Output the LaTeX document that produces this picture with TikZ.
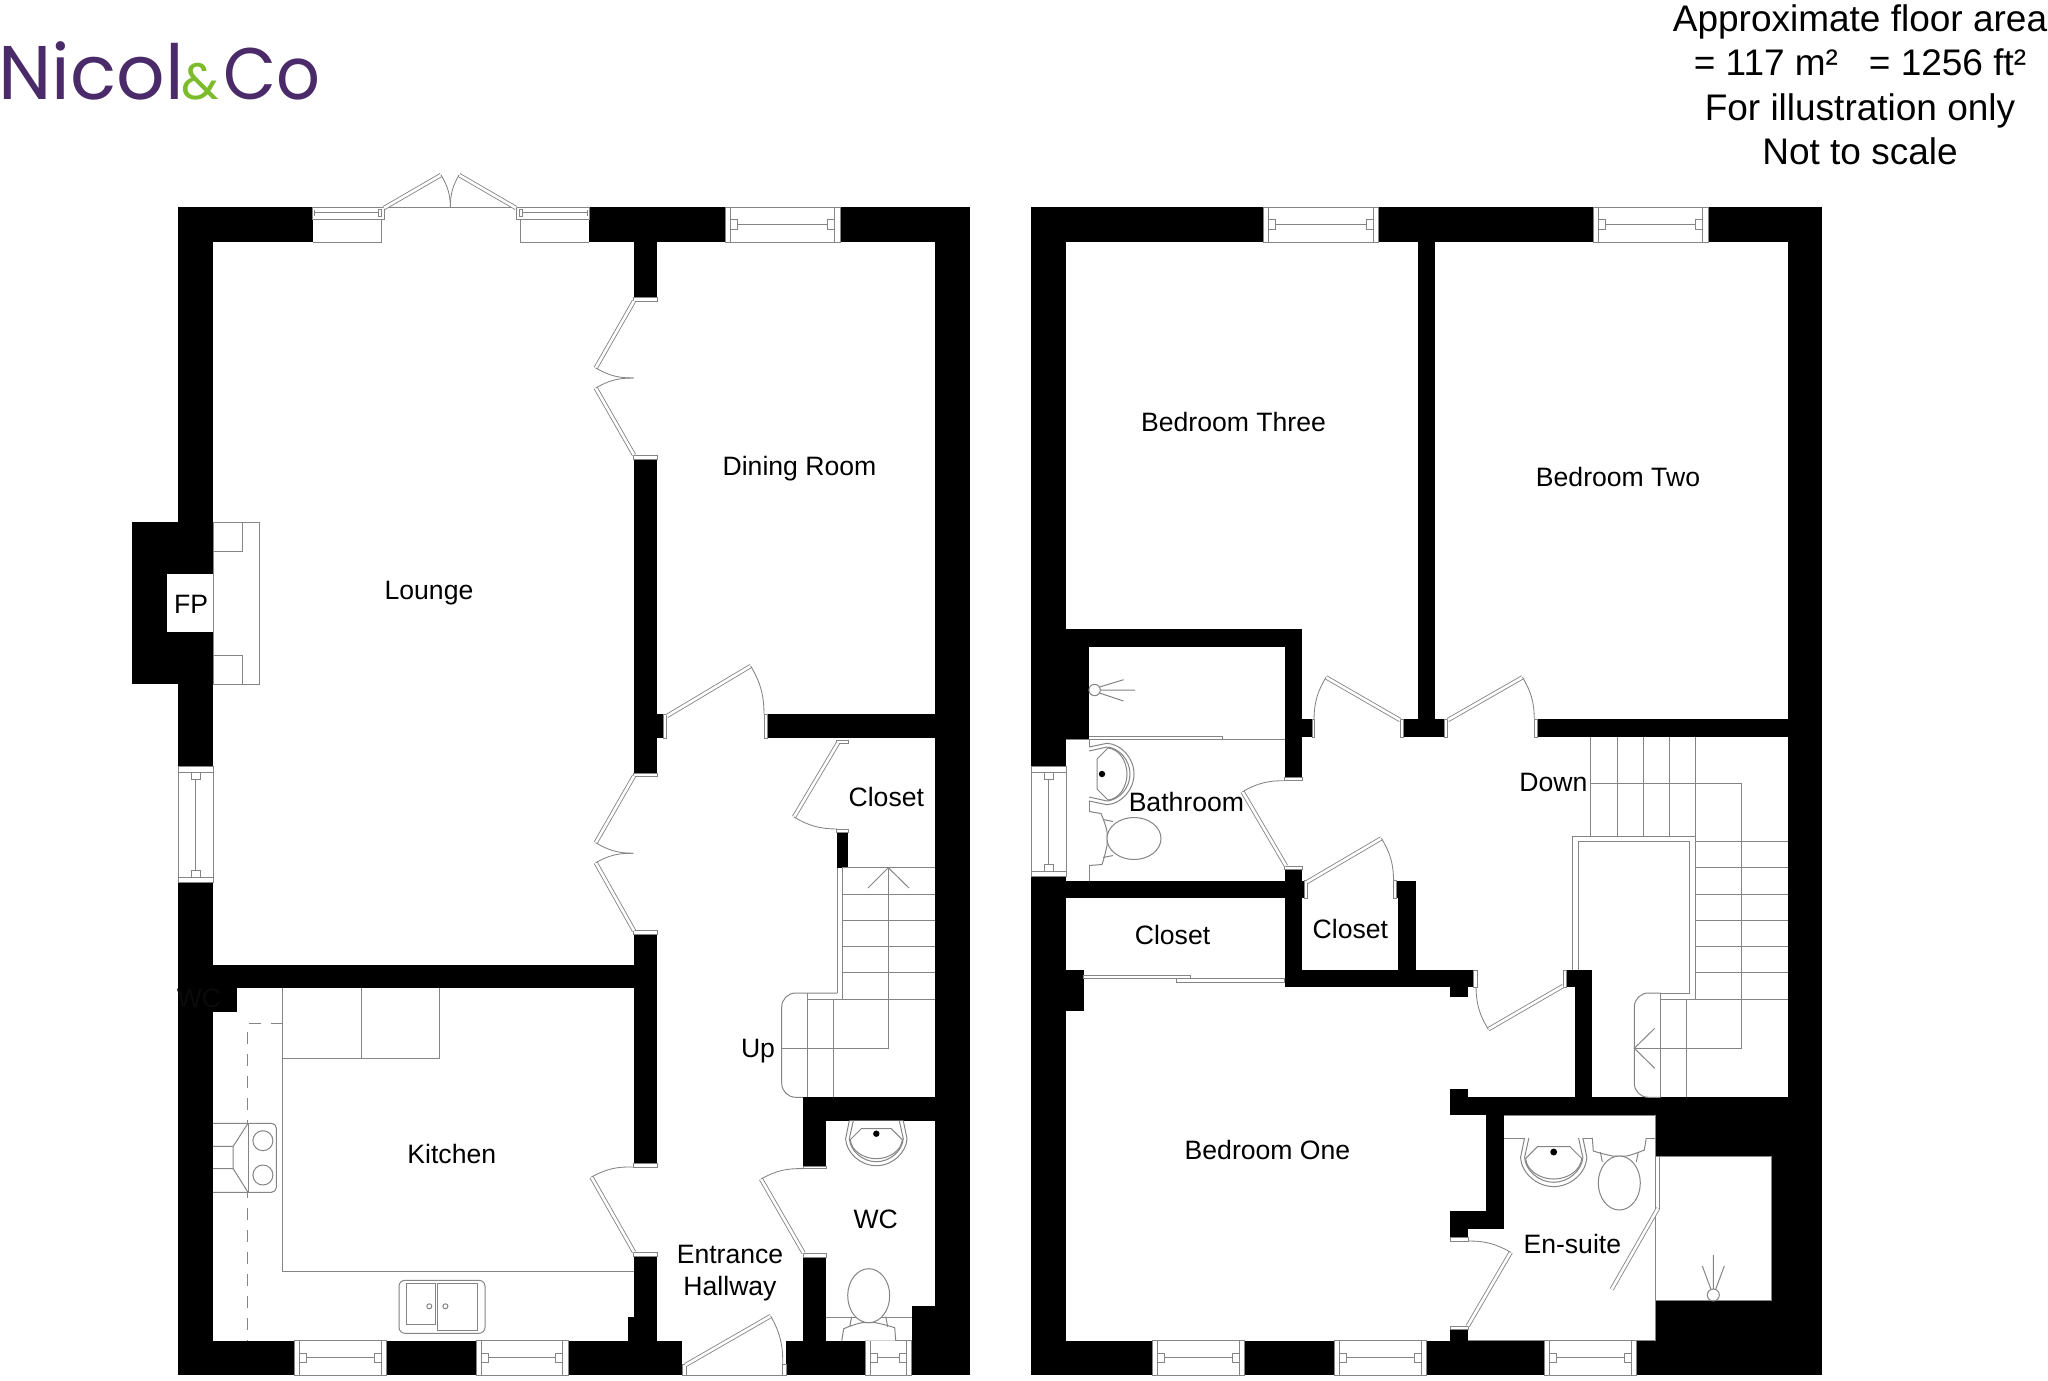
\documentclass[tikz,border=0pt]{standalone}
\usepackage{fontspec}
\setmainfont{Liberation Sans}
\newfontfamily\logofont{Poppins}
\definecolor{logopurple}{HTML}{4A2A68}
\definecolor{logogreen}{HTML}{7CBB2C}
\definecolor{linegrey}{HTML}{858585}
\tikzset{
  ln/.style={draw=linegrey,line width=1pt},
  wallfill/.style={fill=black},
  jamb/.style={draw=linegrey,line width=1pt,fill=white},
  leaf/.style={draw=linegrey,double=white,double distance=2.6pt,line width=0.85pt},
  swing/.style={draw=linegrey,line width=0.85pt,bend left=15},
  room/.style={font=\fontsize{26.6}{32}\selectfont,inner sep=0pt,text=black,text height=19pt,text depth=0pt},
  roomtwo/.style={font=\fontsize{26.6}{32}\selectfont,inner sep=0pt,text=black,align=center},
  hdr/.style={font=\fontsize{37}{44}\selectfont,inner sep=0pt,text=black,anchor=base},
}
\newcommand\W[4]{\fill[wallfill] (#1,#2) rectangle (#3,#4);}
\newcommand\J[4]{\draw[jamb] (#1,#2) rectangle (#3,#4);}
% door: hinge, tip
\newcommand\Lf[4]{\draw[leaf] (#1,#2) -- (#3,#4);}
% clockwise swing
\newcommand\Sw[4]{\draw[swing] (#1,#2) to (#3,#4);}
% horizontal window: x1,x2,ytop,ybot
\newcommand\HW[4]{%
  \draw[jamb] (#1,#3) rectangle (#2,#4);
  \draw[ln] ({#1+5.2},#3) -- ({#1+5.2},#4) ({#2-5.2},#3) -- ({#2-5.2},#4);
  \draw[ln] ({#1+5.2},{(#3+#4)/2-4.7}) rectangle ({#1+12.2},{(#3+#4)/2+4.7});
  \draw[ln] ({#2-5.2},{(#3+#4)/2-4.7}) rectangle ({#2-12.2},{(#3+#4)/2+4.7});
  \draw[ln] ({#1+12.2},{(#3+#4)/2}) -- ({#2-12.2},{(#3+#4)/2});}
% vertical window: y1,y2,xleft,xright
\newcommand\VW[4]{%
  \draw[jamb] (#3,#1) rectangle (#4,#2);
  \draw[ln] (#3,{#1+5.6}) -- (#4,{#1+5.6}) (#3,{#2-5.6}) -- (#4,{#2-5.6});
  \draw[ln] ({(#3+#4)/2-4.7},{#1+5.6}) rectangle ({(#3+#4)/2+4.7},{#1+12.4});
  \draw[ln] ({(#3+#4)/2-4.7},{#2-5.6}) rectangle ({(#3+#4)/2+4.7},{#2-12.4});
  \draw[ln] ({(#3+#4)/2},{#1+12.4}) -- ({(#3+#4)/2},{#2-12.4});}
\newcommand\toiletdraw[3]{%
  \begin{scope}[shift={(#1,#2)},rotate=#3,y=1pt]
    \draw[ln,fill=white] (-27,0) -- (-25,12) .. controls (-18,15) and (-12,17) .. (-7,18) -- (7,18) .. controls (12,17) and (20,15) .. (26,13) -- (27,0);
    \draw[ln] (-19,14) -- (-17,24) (19,14) -- (17,24);
    \draw[ln,fill=white] (0,45) ellipse [x radius=21pt,y radius=27pt];
  \end{scope}}
\newcommand\basindraw[4]{%
  \begin{scope}[shift={(#1,#2)},rotate=#3,scale=#4,y=1pt]
    \draw[ln,fill=white] (-27,0) -- (-30.7,18) .. controls (-30,32) and (-16,45) .. (0,45) .. controls (16,45) and (30,32) .. (30.7,18) -- (27,0);
    \draw[ln] (-23,0) -- (-27,18) .. controls (-26,30) and (-14,41) .. (0,41) .. controls (14,41) and (26,30) .. (27,18) -- (23,0);
    \draw[ln] (-15,8) -- (15,8) -- (26,19) .. controls (25,30) and (13,38) .. (0,38) .. controls (-13,38) and (-25,30) .. (-26,19) -- cycle;
    \fill[black] (0,13) circle [radius=3.2pt];
  \end{scope}}
\begin{document}
\begin{tikzpicture}[x=1pt,y=-1pt]
\useasboundingbox (0,0) rectangle (2048,1381);
\fill[white] (0,0) rectangle (2048,1381);

% ---------- logo and header
\node[anchor=base west,inner sep=0pt,text=logopurple,font=\logofont\fontsize{76}{76}\selectfont] (logoa) at (-2,99.3) {Nicol};
\node[anchor=base west,inner sep=0pt,text=logogreen,font=\logofont\fontsize{51}{51}\selectfont] (logob) at (181.5,99.3) {\&};
\node[anchor=base west,inner sep=0pt,text=logopurple,font=\logofont\fontsize{73}{73}\selectfont] (logoc) at (223,99.3) {\scalebox{0.94}[1]{Co}};
\node[hdr] (h1) at (1860,31.6) {Approximate floor area};
\node[hdr] (h2) at (1860,76) {= 117 m²\ \ \ = 1256 ft²};
\node[hdr] (h3) at (1860,120.4) {For illustration only};
\node[hdr] (h4) at (1860,164.8) {Not to scale};

% ---------- ground floor walls
\W{178}{207}{312.7}{242}\W{589}{207}{725}{242}\W{840}{207}{970}{242}
\W{178}{207}{213}{767}\W{178}{882.7}{213}{1375}
\W{132}{522}{213}{684.3}
\fill[white] (167,574.3) rectangle (213,632.3);
\W{935}{207}{970}{1375}
\W{633.6}{242}{657}{297.3}\W{633.6}{459}{657}{714}\W{633.6}{714}{663.3}{738}\W{633.6}{738}{657}{773}
\W{633.6}{934}{657}{1163.3}\W{213}{965}{657}{988.3}\W{213}{988}{236.8}{1011.7}
\W{633.6}{1256}{657}{1341}\W{627.8}{1317}{657}{1341}
\W{178}{1340.7}{294}{1375}\W{386.4}{1340.7}{476}{1375}\W{568}{1340.7}{682.3}{1375}
\W{786}{1340.7}{865.7}{1375}\W{911.7}{1340.7}{970}{1375}\W{911.7}{1306}{935}{1341}
\W{767}{714}{935}{738}\W{836.7}{832.5}{848.3}{867.7}
\W{803}{1097.3}{935}{1120.7}\W{803}{1097.3}{826.3}{1166}\W{803}{1257}{826.3}{1341}

% ---------- ground floor windows
\draw[ln] (312.7,242) -- (381.4,242) -- (381.4,219);
\draw[ln] (520,219) -- (520,242) -- (589,242);
\draw[jamb] (312.7,207.3) rectangle (384,219.3);
\draw[ln] (314,212.7) -- (378,212.7) (378,209) rectangle (381.4,216.5) (314,209.5) -- (314,216);
\draw[jamb] (516.4,207.3) rectangle (589,219.3);
\draw[ln] (522,212.7) -- (587,212.7) (519,209) rectangle (522.5,216.5) (587,209.5) -- (587,216);
\HW{725}{840}{207.3}{242}
\HW{294}{386.4}{1340.7}{1375}
\HW{476}{568}{1340.7}{1375}
\HW{865.7}{911.7}{1340.7}{1375}
\VW{766.7}{882.7}{178.7}{213}

% french doors at the top
\draw[ln] (384,207.3) -- (516,207.3);
\Lf{384}{208}{441}{175}\Lf{516}{208}{459}{175}
\Sw{441}{175}{450.4}{207.3}\Sw{450.4}{207.3}{459}{175}

% fireplace
\draw[ln] (213,522) rectangle (259.7,684.3);
\draw[ln] (213,551.3) -- (242.3,551.3) -- (242.3,522);
\draw[ln] (213,655.3) -- (242.3,655.3) -- (242.3,684.3);
\draw[ln] (213,574.3) -- (213,632.3);

% ground floor doors
\J{633.6}{297.3}{657}{301}\J{633.6}{455.5}{657}{459}
\Lf{634}{301}{595.7}{368}\Lf{634}{455}{595.7}{388}
\Sw{633.6}{378}{595.7}{368}\Sw{595.7}{388}{633.6}{378}
\J{663.3}{714}{666.7}{738}\J{764}{714}{767}{738}
\Lf{667}{716}{750.7}{666}\Sw{750.7}{666}{764}{714}
\J{836.7}{740}{848.3}{743}\J{836.7}{829}{848.3}{832.5}
\Lf{838}{743}{794}{817}\Sw{837}{829}{794}{817}
\J{633.6}{773}{657}{776}\J{633.6}{930.7}{657}{934}
\Lf{634}{776}{595.7}{842.7}\Lf{634}{930.7}{595.7}{862.7}
\Sw{633.3}{853.3}{595.7}{842.7}\Sw{595.7}{862.7}{633.3}{853.3}
\J{633.6}{1163.3}{657}{1167}\J{633.6}{1252}{657}{1256}
\Lf{634}{1252}{591.4}{1177}\Sw{591.4}{1177}{633.6}{1167}
\J{803}{1166}{826.3}{1168.6}\J{803}{1253}{826.3}{1257}
\Lf{803.6}{1253}{761}{1179}\Sw{761}{1179}{803}{1168.6}
\J{682.3}{1364}{686}{1375}\J{782.7}{1364}{786}{1375}
\draw[ln] (682.3,1375) -- (786,1375);
\Lf{685.5}{1365}{770.7}{1316}\Sw{770.7}{1316}{782.7}{1364}

% stairs up
\draw[ln,rounded corners=14pt] (837,993) -- (781.7,993) -- (781.7,1097.3) -- (803,1097.3);
\draw[ln] (837,867.7) -- (837,993);
\draw[ln] (842.3,867.7) -- (842.3,999);
\draw[ln] (807.7,999) -- (935,999);
\foreach \yy in {867.7,894,920,946.3,972.7} {\draw[ln] (842.3,\yy) -- (935,\yy);}
\draw[ln] (807.7,993) -- (807.7,1097.3) (833.7,999) -- (833.7,1097.3);
\draw[ln] (888.3,867.7) -- (888.3,1048.3) -- (781.7,1048.3);
\draw[ln] (868,888) -- (888.3,867.7) -- (909,888);

% kitchen
\draw[ln] (282.9,988.3) -- (282.9,1271.3) -- (633.6,1271.3);
\draw[ln] (282.9,1058) -- (439.3,1058) -- (439.3,988.3) (361.4,988.3) -- (361.4,1058);
\draw[ln,dash pattern=on 12pt off 10pt] (283,1023.3) -- (247.9,1023.3) -- (247.9,1341);
\draw[ln,fill=white,rounded corners=5pt] (213,1123.3) -- (276.4,1123.3) -- (276.4,1192.3) -- (213,1192.3);
\draw[ln] (248,1123.3) -- (248,1192.3);
\draw[ln] (213,1146.3) -- (233.2,1146.3) -- (248,1123.3) (213,1168.7) -- (233.2,1168.7) -- (248,1192.3) (233.2,1146.3) -- (233.2,1168.7);
\draw[ln] (262.9,1140.7) circle [radius=10pt] (262.9,1175) circle [radius=10pt];
\draw[ln,rounded corners=6pt] (399,1280.3) rectangle (485,1333.3);
\draw[ln] (406.4,1283.3) rectangle (435.7,1324.7) (437.9,1283.3) rectangle (477.5,1330.3);
\draw[ln] (429.3,1306.3) circle [radius=2.5pt] (445.4,1306.3) circle [radius=2.5pt];

% WC
\draw[ln] (826.3,1317.3) -- (911.7,1317.3);
\toiletdraw{868.7}{1340.7}{0}
\basindraw{876.3}{1120.7}{180}{1}

% ---------- first floor walls
\W{1031.4}{207}{1263.7}{242}\W{1378.7}{207}{1593}{242}\W{1708}{207}{1822.4}{242}
\W{1031.4}{207}{1066}{766.7}\W{1031.4}{876.7}{1066}{1375}
\W{1787.5}{207}{1822.4}{1375}
\W{1417.5}{242}{1435.4}{719.3}\W{1403.2}{719.3}{1444}{737.3}
\W{1302}{719.3}{1312}{737.3}\W{1537}{719.3}{1787.5}{737.3}
\W{1066}{629.3}{1302}{647.3}\W{1066}{647}{1089}{739.3}\W{1284.6}{629.3}{1302}{777.3}
\W{1066}{880.7}{1285}{898.3}\W{1284.6}{869.3}{1302}{987.3}
\W{1396.8}{880.7}{1416}{898.3}\W{1398}{898}{1416}{970}
\W{1302}{970}{1473.6}{987.3}\W{1302}{880.7}{1304}{898.3}
\W{1450.4}{987}{1468.2}{997}
\W{1066}{970}{1083.6}{1010.7}
\W{1566.7}{970}{1592.3}{987.3}\W{1574.7}{987}{1592.3}{1097.5}
\W{1450.3}{1097.3}{1822.4}{1115}\W{1450.3}{1089.3}{1468.3}{1097.5}
\W{1486}{1115}{1504}{1229.3}\W{1450.3}{1211.3}{1504}{1229.3}\W{1450.3}{1211.3}{1468}{1237.7}
\W{1450.3}{1329}{1468}{1341}
\W{1031.4}{1340.7}{1152.3}{1375}\W{1244.7}{1340.7}{1334.3}{1375}\W{1426.7}{1340.7}{1544.3}{1375}\W{1636.3}{1340.7}{1822.4}{1375}
\W{1655.3}{1115}{1822.4}{1156.3}\W{1655.3}{1300.3}{1822.4}{1375}\W{1771.3}{1150}{1822.4}{1305}

% ---------- first floor windows
\HW{1263.7}{1378.7}{207.3}{242}
\HW{1593}{1708}{207.3}{242}
\HW{1152.3}{1244.7}{1340.7}{1375}
\HW{1334.3}{1426.7}{1340.7}{1375}
\HW{1544.3}{1636.3}{1340.7}{1375}
\VW{766.7}{876.7}{1031.4}{1066}

% bathroom
\draw[ln] (1066,739.3) -- (1089,739.3) (1089,739.3) -- (1089,880.7);
\draw[ln] (1089,736.3) -- (1222.5,736.3) -- (1222.5,739.7) -- (1089,739.7) (1222.5,739.7) -- (1284.6,739.7);
\draw[ln] (1094.6,690) circle [radius=5.7pt];
\draw[ln] (1100.3,690) -- (1135,690) (1099.5,687) -- (1123.6,679.7) (1099.5,693) -- (1123.6,701);
\basindraw{1089}{774}{-90}{1}
\toiletdraw{1089}{838.5}{-90}

% first floor doors
\J{1400.4}{719.3}{1403.2}{737.3}\J{1312}{719.3}{1314.6}{737.3}
\Lf{1400}{720}{1326}{677.3}\Sw{1314}{719.3}{1326}{677.3}
\J{1444}{719.3}{1447.5}{737.3}\J{1534.3}{719.3}{1537}{737.3}
\Lf{1448}{720}{1522.5}{677.3}\Sw{1522.5}{677.3}{1534.3}{719.3}
\J{1284.6}{777.3}{1302}{780.7}\J{1284.6}{866}{1302}{869.3}
\Lf{1286}{866}{1242.5}{791.7}\Sw{1242.5}{791.7}{1284.6}{780.7}
\J{1304}{880.7}{1307.5}{898.3}\J{1393.6}{880.7}{1396.8}{898.3}
\Lf{1307}{882}{1381.4}{838.3}\Sw{1381.4}{838.3}{1393.6}{880.7}
\J{1473.6}{970}{1477}{987.3}\J{1563}{970}{1566.7}{987.3}
\Lf{1563}{986}{1488.3}{1029.3}\Sw{1488.3}{1029.3}{1476}{987.3}
\J{1450.3}{1237.7}{1468}{1241}\J{1450.3}{1326}{1468}{1329}
\Lf{1467.7}{1326}{1510.7}{1252.3}\Sw{1468}{1241}{1510.7}{1252.3}

% closet sliders
\draw[ln] (1083.6,975) rectangle (1190,978.7);
\draw[ln] (1176.4,978.7) rectangle (1284.6,982.3);

% stairs down
\foreach \xx in {1590.7,1617,1643,1669.3,1695.3} {\draw[ln] (\xx,737.3) -- (\xx,836);}
\draw[ln] (1590.7,783.3) -- (1741.7,783.3) -- (1741.7,1048.3) -- (1634.3,1048.3);
\draw[ln] (1654.7,1028.3) -- (1634.3,1048.3) -- (1654.7,1068.3);
\draw[ln] (1572.7,970) -- (1572.7,836) -- (1695.3,836) -- (1695.3,999) -- (1660.7,999);
\draw[ln] (1578.3,970) -- (1578.3,841.7) -- (1689.7,841.7) -- (1689.7,993) -- (1660.7,993);
\draw[ln,rounded corners=14pt] (1660.7,993) -- (1634.3,993) -- (1634.3,1097.3) -- (1660.7,1097.3);
\foreach \yy in {841.7,867.7,894,920.3,946.3,972.7,999} {\draw[ln] (1695.3,\yy) -- (1787.5,\yy);}
\draw[ln] (1660.7,993) -- (1660.7,1097.3) (1686.3,999) -- (1686.3,1097.3);

% en-suite
\draw[ln] (1504,1115) -- (1655.3,1115) (1504,1138) -- (1655.3,1138);
\draw[ln] (1655.3,1115) -- (1655.3,1340.7) (1468,1340.7) -- (1655.3,1340.7);
\basindraw{1553.7}{1138}{180}{1.08}
\toiletdraw{1619.3}{1138}{180}
\draw[ln] (1655.3,1156.3) rectangle (1659,1208.3);
\Lf{1658}{1208.3}{1611.7}{1289.3}
\draw[ln] (1655.3,1156.3) -- (1771.3,1156.3) -- (1771.3,1300.3) -- (1655.3,1300.3);
\draw[ln] (1713.3,1295) circle [radius=6pt];
\draw[ln] (1713.3,1289) -- (1713.3,1255) (1711,1289.5) -- (1702.3,1266) (1715.6,1289.5) -- (1724.3,1266);

% ---------- labels
\node[room] (lounge) at (429,590) {Lounge};
\node[room] (dining) at (799.5,465.5) {Dining Room};
\node[room] (closeta) at (886.3,796.7) {Closet};
\node[room] (kitchen) at (451.8,1154) {Kitchen};
\node[room] (up) at (758,1048) {Up};
\node[roomtwo] (hall) at (730,1273) {Entrance\\Hallway};
\node[room] (wc) at (875.7,1219.3) {WC};
\node[room] (fp) at (191,604.3) {FP};
\node[room,text=black!96] (wcb) at (199,998) {WC};
\node[room] (bed3) at (1233.5,421.8) {Bedroom Three};
\node[room] (bed2) at (1618,476.7) {Bedroom Two};
\node[room] (bath) at (1186.4,802.3) {Bathroom};
\node[room] (down) at (1553.3,781.7) {Down};
\node[room] (closetb) at (1172.5,935) {Closet};
\node[room] (closetc) at (1350.4,929) {Closet};
\node[room] (bed1) at (1267.5,1149.5) {Bedroom One};
\node[room] (ensuite) at (1572.3,1244) {En-suite};
\end{tikzpicture}
\end{document}
